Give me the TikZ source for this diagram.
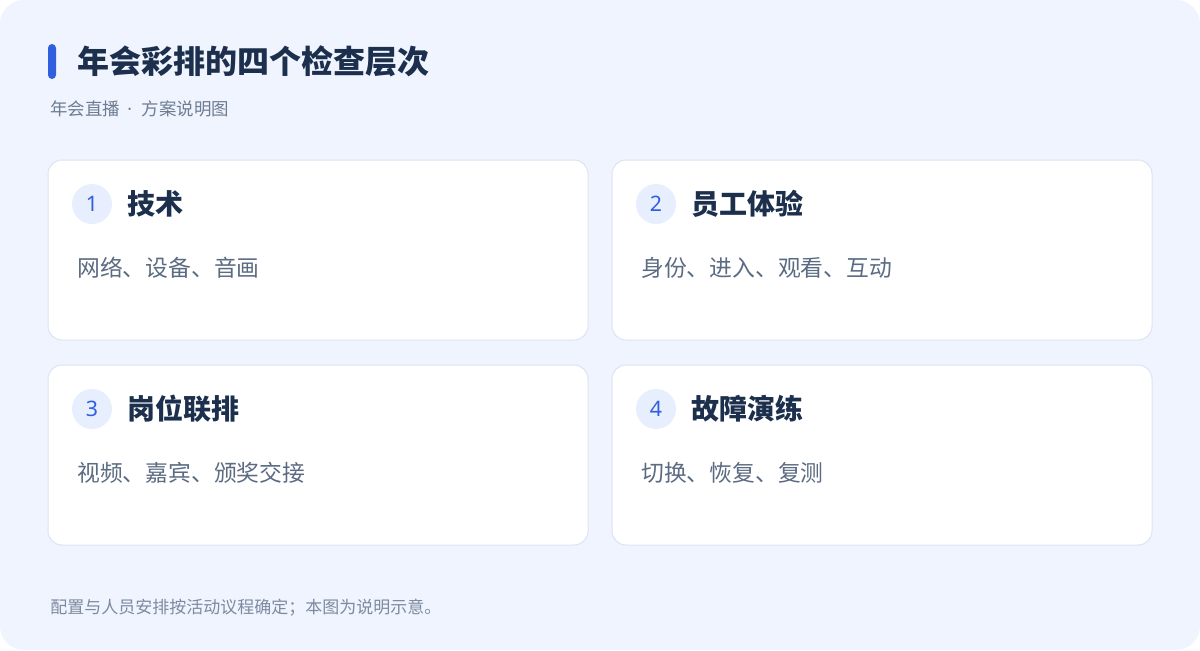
\documentclass[tikz,border=0pt]{standalone}
\usepackage{fontspec}
\newfontfamily\cjk{Noto Sans CJK SC}
\newfontfamily\latin{Noto Sans}
\definecolor{bgc}{HTML}{EFF4FE}
\definecolor{accent}{HTML}{2F5FDF}
\definecolor{navy}{HTML}{1C2F4D}
\definecolor{bodyc}{HTML}{5B6B82}
\definecolor{subc}{HTML}{6E7C92}
\definecolor{footc}{HTML}{7D8AA0}
\definecolor{cardline}{HTML}{DDE4F1}
\definecolor{circfill}{HTML}{E7EEFD}
\tikzset{
  card/.style={draw=cardline, line width=0.75pt, fill=white, rounded corners=10.5pt},
  numcirc/.style={circle, fill=circfill, minimum size=30pt, inner sep=0pt},
  numtext/.style={font=\latin\fontsize{16}{16}\selectfont, text=accent, anchor=center},
  cardtitle/.style={font=\cjk\bfseries\fontsize{21}{21}\selectfont, text=navy, anchor=base west, inner sep=0pt},
  cardbody/.style={font=\cjk\fontsize{17.1}{17.1}\selectfont, text=bodyc, anchor=base west, inner sep=0pt},
}
\begin{document}
\begin{tikzpicture}[x=0.75pt, y=-0.75pt]
\useasboundingbox (0,0) rectangle (1200,650);
\fill[white] (0,0) rectangle (1200,650);
\fill[bgc, rounded corners=18pt] (0,0) rectangle (1200,650);
\fill[accent, rounded corners=3pt] (48,44) rectangle (56,79);
\node[font=\cjk\bfseries\fontsize{24}{24}\selectfont, text=navy, anchor=base west, inner sep=0pt] (title) at (77,73) {年会彩排的四个检查层次};
\node[font=\cjk\fontsize{13.1}{13.1}\selectfont, text=subc, anchor=base west, inner sep=0pt] (sub) at (50,115.5) {年会直播{\latin\hspace{2pt} · \hspace{4pt}}方案说明图};
% cards
\draw[card] (48,160) rectangle (588,340);
\draw[card] (612,160) rectangle (1152,340);
\draw[card] (48,365) rectangle (588,545);
\draw[card] (612,365) rectangle (1152,545);
% card 1
\node[numcirc] (c1) at (92,204) {};
\node[numtext] (n1) at (c1) {1};
\node[cardtitle] (t1) at (127,214.5) {技术};
\node[cardbody] (b1) at (77,276) {网络、设备、音画};
% card 2
\node[numcirc] (c2) at (656,204) {};
\node[numtext] (n2) at (c2) {2};
\node[cardtitle] (t2) at (691,214.5) {员工体验};
\node[cardbody] (b2) at (641,276) {身份、进入、观看、互动};
% card 3
\node[numcirc] (c3) at (92,409) {};
\node[numtext] (n3) at (c3) {3};
\node[cardtitle] (t3) at (127,419.5) {岗位联排};
\node[cardbody] (b3) at (77,481) {视频、嘉宾、颁奖交接};
% card 4
\node[numcirc] (c4) at (656,409) {};
\node[numtext] (n4) at (c4) {4};
\node[cardtitle] (t4) at (691,419.5) {故障演练};
\node[cardbody] (b4) at (641,481) {切换、恢复、复测};
% footer
\node[font=\cjk\fontsize{12.75}{12.75}\selectfont, text=footc, anchor=base west, inner sep=0pt] (foot) at (50,613.5) {配置与人员安排按活动议程确定；本图为说明示意。};
\end{tikzpicture}
\end{document}
